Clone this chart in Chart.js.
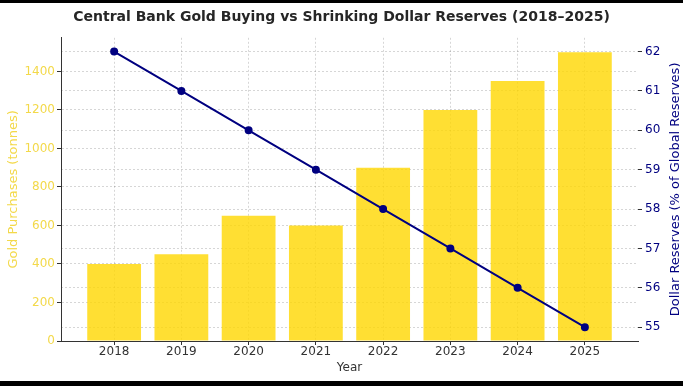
<!DOCTYPE html>
<html>
<head>
<meta charset="utf-8">
<script src="https://cdn.jsdelivr.net/npm/chart.js@4"></script>
<style>
  html, body { margin: 0; padding: 0; background: #fff; }
  #wrap { width: 683px; height: 386px; position: relative; }
</style>
</head>
<body>
<div id="wrap"><canvas id="chart"></canvas></div>
<script>
const years = ['2018', '2019', '2020', '2021', '2022', '2023', '2024', '2025'];
const goldTonnes = [400, 450, 650, 600, 900, 1200, 1350, 1500];
const dollarShare = [62, 61, 60, 59, 58, 57, 56, 55];
const goldTicks = [0, 200, 400, 600, 800, 1000, 1200, 1400];
const dollarTicks = [55, 56, 57, 58, 59, 60, 61, 62];

const FONT = 'DejaVu Sans';
const GOLD = '#F3D94A';
const NAVY = '#000080';
const GRID = 'rgba(0,0,0,0.16)';

// frame bands + right axis title (matplotlib reads it bottom-to-top)
const frame = {
  id: 'frame',
  beforeDraw(chart) {
    const ctx = chart.ctx;
    ctx.save();
    ctx.fillStyle = '#fff';
    ctx.fillRect(0, 0, chart.width, chart.height);
    ctx.fillStyle = '#000';
    ctx.fillRect(0, 0, chart.width, 3);
    ctx.fillRect(0, 381, chart.width, 5);
    ctx.restore();
  },
  afterDraw(chart) {
    const ctx = chart.ctx;
    const a = chart.chartArea;
    ctx.save();
    ctx.translate(676, (a.top + a.bottom) / 2);
    ctx.rotate(-Math.PI / 2);
    ctx.font = '13px "' + FONT + '"';
    ctx.fillStyle = NAVY;
    ctx.textAlign = 'center';
    ctx.textBaseline = 'middle';
    ctx.fillText('Dollar Reserves (% of Global Reserves)', 0, 0);
    ctx.restore();
  }
};

const setTicks = (vals) => (s) => { s.ticks = vals.map(v => ({ value: v })); };

new Chart(document.getElementById('chart'), {
  data: {
    datasets: [
      {
        type: 'line',
        label: 'Dollar Reserves',
        data: dollarShare.map((v, i) => ({ x: i, y: v })),
        yAxisID: 'y1',
        borderColor: NAVY,
        backgroundColor: NAVY,
        borderWidth: 2,
        pointRadius: 3,
        pointHoverRadius: 3,
        tension: 0,
        order: 0
      },
      {
        type: 'bar',
        label: 'Gold Purchases',
        data: goldTonnes.map((v, i) => ({ x: i, y: v })),
        yAxisID: 'y',
        backgroundColor: 'rgba(255,215,0,0.8)',
        borderWidth: 0,
        barPercentage: 0.8,
        categoryPercentage: 1.0,
        order: 1
      }
    ]
  },
  plugins: [frame],
  options: {
    responsive: true,
    maintainAspectRatio: false,
    animation: false,
    layout: { padding: 0 },
    plugins: {
      legend: { display: false },
      tooltip: { enabled: false },
      title: {
        display: true,
        text: 'Central Bank Gold Buying vs Shrinking Dollar Reserves (2018–2025)',
        color: '#262626',
        font: { family: FONT, size: 14, weight: 'bold' },
        padding: { top: 8.5, bottom: 12.5 }
      }
    },
    scales: {
      x: {
        type: 'linear',
        min: -0.79,
        max: 7.79,
        offset: false,
        z: 1,
        afterFit(s) { s.height = 45; },
        afterBuildTicks: setTicks(years.map((y, i) => i)),
        ticks: {
          autoSkip: false,
          maxRotation: 0,
          padding: 0,
          color: '#333',
          font: { family: FONT, size: 12 },
          callback: (v) => years[v] !== undefined ? years[v] : ''
        },
        grid: { offset: false, color: GRID, tickColor: '#333', tickLength: 4, drawOnChartArea: true },
        border: { display: true, color: '#333', width: 1, dash: [2, 2] },
        title: {
          display: true,
          text: 'Year',
          color: '#333',
          font: { family: FONT, size: 12 },
          padding: { top: 0, bottom: 11 }
        }
      },
      y: {
        position: 'left',
        min: 0,
        max: 1575,
        z: 1,
        afterFit(s) { s.width = 61; },
        afterBuildTicks: setTicks(goldTicks),
        ticks: {
          padding: 2,
          color: GOLD,
          font: { family: FONT, size: 12 },
          callback: (v) => String(v)
        },
        grid: { color: GRID, tickColor: '#333', tickLength: 4 },
        border: { display: true, color: '#333', width: 1, dash: [2, 2] },
        title: {
          display: true,
          text: 'Gold Purchases (tonnes)',
          color: GOLD,
          font: { family: FONT, size: 13 },
          padding: { top: 6, bottom: 0 }
        }
      },
      y1: {
        position: 'right',
        min: 54.65,
        max: 62.35,
        afterFit(s) { s.width = 45; },
        afterBuildTicks: setTicks(dollarTicks),
        ticks: {
          padding: 3,
          color: NAVY,
          font: { family: FONT, size: 12 }
        },
        grid: { color: GRID, tickColor: '#333', tickLength: 4, drawOnChartArea: true },
        border: { display: false, dash: [2, 2] }
      }
    }
  }
});
</script>
</body>
</html>
